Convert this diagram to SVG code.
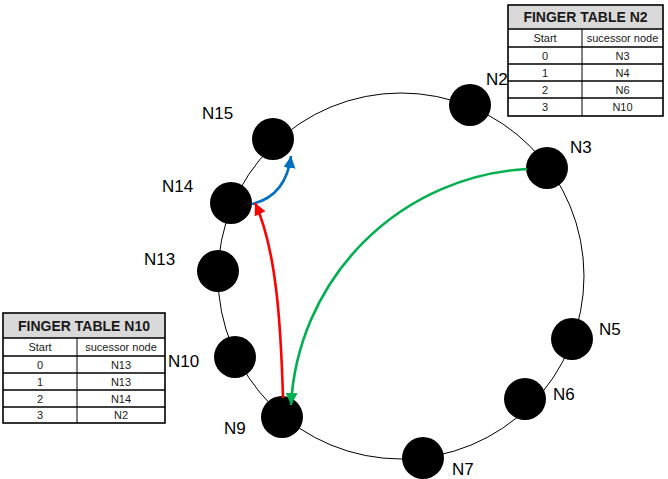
<svg xmlns="http://www.w3.org/2000/svg" width="668" height="479" viewBox="0 0 668 479">
<style>
.node{fill:#000}
.lbl{font-family:"Liberation Sans",Arial,sans-serif;font-size:17px;fill:#000}
.th{font-family:"Liberation Sans",Arial,sans-serif;font-size:14px;font-weight:bold;fill:#1a1a1a;text-anchor:middle}
.td{font-family:"Liberation Sans",Arial,sans-serif;font-size:11px;fill:#1a1a1a;text-anchor:middle}
.grid{stroke:#000;stroke-width:1;fill:none}
.thick{stroke:#000;stroke-width:1.6;fill:none}
.hdr{fill:#d9d9d9}
.ring{fill:none;stroke:#000;stroke-width:1}
.arr{fill:none;stroke-width:2.6}
</style>
<defs>
<marker id="mb" markerUnits="userSpaceOnUse" markerWidth="14" markerHeight="14" refX="12" refY="6" orient="auto"><path d="M0,0 L12,6 L0,12 Z" fill="#0070c0"/></marker>
<marker id="mr" markerUnits="userSpaceOnUse" markerWidth="14" markerHeight="14" refX="12" refY="6" orient="auto"><path d="M0,0 L12,6 L0,12 Z" fill="#ff0000"/></marker>
<marker id="mg" markerUnits="userSpaceOnUse" markerWidth="14" markerHeight="14" refX="12" refY="6" orient="auto"><path d="M0,0 L12,6 L0,12 Z" fill="#00b050"/></marker>
</defs>
<rect width="668" height="479" fill="#fff"/>
<circle class="ring" cx="401" cy="276" r="183"/>

<g id="table-n2">
<rect class="hdr" x="508" y="5" width="155" height="24"/>
<rect class="thick" x="508" y="5" width="155" height="111"/>
<line class="thick" x1="508" y1="29" x2="663" y2="29"/>
<line class="thick" x1="508" y1="47" x2="663" y2="47"/>
<line class="thick" x1="508" y1="64" x2="663" y2="64"/>
<line class="thick" x1="508" y1="81" x2="663" y2="81"/>
<line class="thick" x1="508" y1="98" x2="663" y2="98"/>
<line class="grid" x1="582" y1="29" x2="582" y2="116"/>
<text class="th" x="585.5" y="22">FINGER TABLE N2</text>
<text class="td" x="545" y="42">Start</text>
<text class="td" x="622.5" y="42">sucessor node</text>
<text class="td" x="545" y="60">0</text><text class="td" x="622.5" y="60">N3</text>
<text class="td" x="545" y="77">1</text><text class="td" x="622.5" y="77">N4</text>
<text class="td" x="545" y="94">2</text><text class="td" x="622.5" y="94">N6</text>
<text class="td" x="545" y="111">3</text><text class="td" x="622.5" y="111">N10</text>
</g>

<g id="table-n10">
<rect class="hdr" x="3" y="313" width="162" height="25"/>
<rect class="thick" x="3" y="313" width="162" height="110"/>
<line class="thick" x1="3" y1="338" x2="165" y2="338"/>
<line class="thick" x1="3" y1="356" x2="165" y2="356"/>
<line class="thick" x1="3" y1="373" x2="165" y2="373"/>
<line class="thick" x1="3" y1="390" x2="165" y2="390"/>
<line class="thick" x1="3" y1="407" x2="165" y2="407"/>
<line class="grid" x1="77" y1="338" x2="77" y2="423"/>
<text class="th" x="84" y="331">FINGER TABLE N10</text>
<text class="td" x="40" y="351">Start</text>
<text class="td" x="121" y="351">sucessor node</text>
<text class="td" x="40" y="369">0</text><text class="td" x="121" y="369">N13</text>
<text class="td" x="40" y="386">1</text><text class="td" x="121" y="386">N13</text>
<text class="td" x="40" y="403">2</text><text class="td" x="121" y="403">N14</text>
<text class="td" x="40" y="419">3</text><text class="td" x="121" y="419">N2</text>
</g>

<g id="N2"><circle class="node" cx="470" cy="105" r="21"/><text class="lbl" x="486" y="85">N2</text></g>
<g id="N3"><circle class="node" cx="547" cy="168" r="21"/><text class="lbl" x="570" y="153">N3</text></g>
<g id="N5"><circle class="node" cx="572" cy="339" r="21"/><text class="lbl" x="599" y="335">N5</text></g>
<g id="N6"><circle class="node" cx="525" cy="399" r="21"/><text class="lbl" x="553" y="400">N6</text></g>
<g id="N7"><circle class="node" cx="423" cy="458" r="21"/><text class="lbl" x="452" y="475">N7</text></g>
<g id="N9"><circle class="node" cx="282" cy="417" r="21"/><text class="lbl" x="224" y="434">N9</text></g>
<g id="N10"><circle class="node" cx="235" cy="357" r="21"/><text class="lbl" x="168" y="367">N10</text></g>
<g id="N13"><circle class="node" cx="218" cy="271" r="21"/><text class="lbl" x="144" y="265">N13</text></g>
<g id="N14"><circle class="node" cx="231" cy="203" r="21"/><text class="lbl" x="162" y="192">N14</text></g>
<g id="N15"><circle class="node" cx="273" cy="139" r="21"/><text class="lbl" x="202" y="119">N15</text></g>

<g id="connectors">
<path class="arr" stroke="#0070c0" d="M252,204 Q286,196 291,156" marker-end="url(#mb)"/>
<path class="arr" stroke="#ff0000" d="M283,398 C281,330 277,250 255,203" marker-end="url(#mr)"/>
<path class="arr" stroke="#00b050" d="M527,169 A250,250 0 0 0 291,405" marker-end="url(#mg)"/>
</g>
</svg>
